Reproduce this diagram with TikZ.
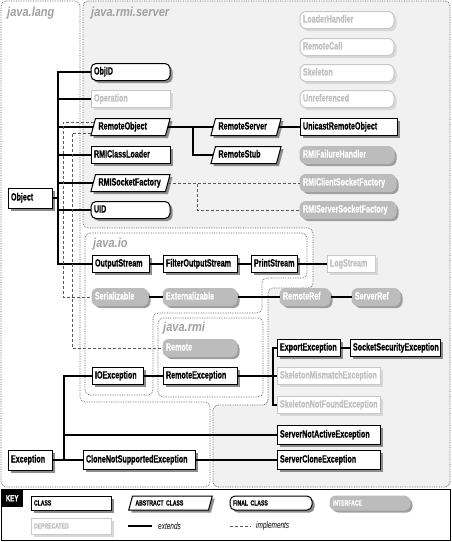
\documentclass[tikz,border=0pt]{standalone}
\usepackage{fontspec}
\setmainfont{Liberation Sans}[FakeStretch=0.68, BoldFeatures={FakeBold=0.5}]
\newfontfamily\pkgfont{Liberation Sans}[FakeStretch=0.85]
\usetikzlibrary{shapes.geometric,shadows,calc}
\definecolor{shd}{RGB}{140,140,140}
\definecolor{ifill}{RGB}{188,188,188}
\definecolor{ishd}{RGB}{158,158,158}
\definecolor{dline}{RGB}{200,200,200}
\definecolor{dtext}{RGB}{192,192,192}
\definecolor{dshd}{RGB}{216,216,216}
\definecolor{rmibg}{RGB}{241,241,241}
\definecolor{pkgtxt}{RGB}{160,160,160}
\definecolor{pkgline}{RGB}{90,90,90}
\tikzset{
 bx/.style={font=\fontsize{10.5}{12}\selectfont\bfseries, inner xsep=3pt, inner ysep=4pt, text height=7pt, text depth=2pt, align=left, line width=1pt},
 shadowof/.style={drop shadow={shadow xshift=2.5pt, shadow yshift=-2.5pt, fill=#1, opacity=1}},
 clsbox/.style={bx, /utils/exec={\pgfmathsetmacro\tw{#1-6}}, text width=\tw pt, rectangle, draw=black, fill=white, shadowof=shd},
 absbox/.style={bx, /utils/exec={\pgfmathsetmacro\tw{#1-15}}, text width=\tw pt, trapezium, trapezium left angle=75, trapezium right angle=105, draw=black, fill=white, shadowof=shd},
 finbox/.style={bx, /utils/exec={\pgfmathsetmacro\tw{#1-6}}, text width=\tw pt, rectangle, rounded corners=5pt, draw=black, fill=white, shadowof=shd},
 ifbox/.style={bx, /utils/exec={\pgfmathsetmacro\tw{#1-6}}, text width=\tw pt, rectangle, rounded corners=6pt, draw=ifill, fill=ifill, text=white, shadowof=ishd},
 dclsbox/.style={bx, /utils/exec={\pgfmathsetmacro\tw{#1-6}}, text width=\tw pt, rectangle, draw=dline, fill=white, text=dtext, shadowof=dshd},
 difbox/.style={bx, /utils/exec={\pgfmathsetmacro\tw{#1-6}}, text width=\tw pt, rectangle, rounded corners=6pt, draw=dline, fill=white, text=dtext, shadowof=dshd},
 tallbox/.style={inner ysep=5pt},
 bigbox/.style={inner ysep=5.5pt},
 keyb/.style={font=\fontsize{7.5}{9}\selectfont\bfseries, inner ysep=3.5pt, text height=6pt, text depth=1pt},
 pkgline/.style={densely dotted, line width=0.7pt, draw=pkgline, rounded corners=5pt},
 pkglbl/.style={font=\pkgfont\fontsize{13}{15}\selectfont\bfseries\itshape, text=pkgtxt, inner sep=0pt, anchor=base west},
 extline/.style={line width=1.1pt, draw=black},
 impline/.style={line width=0.9pt, draw=black!65, dash pattern=on 3pt off 2pt},
 legtxt/.style={font=\fontsize{9.5}{11}\selectfont\itshape, inner sep=0pt, anchor=west},
}
\begin{document}
\begin{tikzpicture}[x=1pt,y=-1pt]
\useasboundingbox (0,0) rectangle (452,542);
% package regions
\filldraw[pkgline, fill=rmibg] (83,1) -- (450,1) -- (450,487) -- (213,487) -- (213,405) -- (268,405) -- (268,288) -- (313,288) -- (313,228) -- (83,228) -- cycle;
\draw[pkgline] (1,1) -- (80,1) -- (80,402) -- (210,402) -- (210,487) -- (1,487) -- cycle;
\draw[pkgline] (85,233) -- (307,233) -- (307,278) -- (262,278) -- (262,313) -- (153,313) -- (153,395) -- (85,395) -- cycle;
\draw[pkgline] (158,318) -- (263,318) -- (263,397) -- (158,397) -- cycle;
\node[pkglbl] (lLang) at (7,16) {java.lang};
\node[pkglbl] (lServer) at (91,16) {java.rmi.server};
\node[pkglbl] (lIo) at (93,247) {java.io};
\node[pkglbl] (lRmi) at (163,331) {java.rmi};

% java.lang / java.rmi.server
\node[clsbox=44, bigbox] (Object) at (30,198) {Object};
\node[finbox=79] (ObjID) at (130.5,72) {ObjID};
\node[dclsbox=79] (Operation) at (130.5,99) {Operation};
\node[absbox=79] (RemoteObject) at (130.5,127) {RemoteObject};
\node[clsbox=79] (RMIClassLoader) at (130.5,155) {RMIClassLoader};
\node[absbox=79] (RMISocketFactory) at (130.5,183) {RMISocketFactory};
\node[finbox=79] (UID) at (130.5,210) {UID};
\node[absbox=70] (RemoteServer) at (246,127) {RemoteServer};
\node[absbox=70] (RemoteStub) at (246,155) {RemoteStub};
\node[clsbox=97] (UnicastRemoteObject) at (348.5,127) {UnicastRemoteObject};
\node[difbox=94] (LoaderHandler) at (347,20) {LoaderHandler};
\node[difbox=94] (RemoteCall) at (347,47) {RemoteCall};
\node[difbox=94] (Skeleton) at (347,73) {Skeleton};
\node[difbox=94] (Unreferenced) at (347,99) {Unreferenced};
\node[ifbox=94] (RMIFailureHandler) at (347,155) {RMIFailureHandler};
\node[ifbox=96] (RMIClientSocketFactory) at (348,183) {RMIClientSocketFactory};
\node[ifbox=96] (RMIServerSocketFactory) at (348,210) {RMIServerSocketFactory};

% java.io
\node[clsbox=57] (OutputStream) at (120.5,264) {OutputStream};
\node[clsbox=74] (FilterOutputStream) at (200,264) {FilterOutputStream};
\node[clsbox=46] (PrintStream) at (274,264) {PrintStream};
\node[dclsbox=48] (LogStream) at (351,264) {LogStream};
\node[ifbox=56] (Serializable) at (120,297) {Serializable};
\node[ifbox=74] (Externalizable) at (200,297) {Externalizable};
\node[ifbox=50] (RemoteRef) at (305,297) {RemoteRef};
\node[ifbox=48] (ServerRef) at (376,297) {ServerRef};
\node[ifbox=74] (Remote) at (200,348) {Remote};
\node[clsbox=51] (IOException) at (117.5,376) {IOException};
\node[clsbox=74] (RemoteException) at (200,376) {RemoteException};
\node[clsbox=63] (ExportException) at (308.5,348) {ExportException};
\node[clsbox=90] (SocketSecurityException) at (395,348) {SocketSecurityException};
\node[dclsbox=103] (SkeletonMismatchException) at (328.5,376) {SkeletonMismatchException};
\node[dclsbox=103] (SkeletonNotFoundException) at (328.5,405) {SkeletonNotFoundException};
\node[clsbox=103, tallbox] (ServerNotActiveException) at (328.5,435) {ServerNotActiveException};
\node[clsbox=103, tallbox] (ServerCloneException) at (328.5,460) {ServerCloneException};
\node[clsbox=44, bigbox] (Exception) at (30,460) {Exception};
\node[clsbox=112, tallbox] (CloneNotSupportedException) at (139,460) {CloneNotSupportedException};

% trunk x positions
\coordinate (tObj) at (58,0);
\coordinate (tExc) at (64,0);
\coordinate (tRO) at (193,0);
\coordinate (tRE) at (273,0);
\coordinate (tRSF) at (197,0);
\coordinate (tSer) at (63,0);
\coordinate (tRem) at (72,0);

% extends
\foreach \n in {ObjID,Operation,RemoteObject,RMIClassLoader,RMISocketFactory,UID,OutputStream}
  \draw[extline] (Object.east) -- (Object.east -| tObj) |- (\n.west);
\foreach \n in {IOException,ServerNotActiveException,CloneNotSupportedException}
  \draw[extline] (Exception.east) -- (Exception.east -| tExc) |- (\n.west);
\foreach \n in {RemoteServer,RemoteStub}
  \draw[extline] (RemoteObject.east) -- (RemoteObject.east -| tRO) |- (\n.west);
\foreach \n in {ExportException,SkeletonMismatchException,SkeletonNotFoundException}
  \draw[extline] (RemoteException.east) -- (RemoteException.east -| tRE) |- (\n.west);
\draw[extline] (RemoteServer.east) -- (UnicastRemoteObject.west);
\draw[extline] (OutputStream.east) -- (FilterOutputStream.west);
\draw[extline] (FilterOutputStream.east) -- (PrintStream.west);
\draw[extline] (PrintStream.east) -- (LogStream.west);
\draw[extline] (Serializable.east) -- (Externalizable.west);
\draw[extline] (Externalizable.east) -- (RemoteRef.west);
\draw[extline] (RemoteRef.east) -- (ServerRef.west);
\draw[extline] (IOException.east) -- (RemoteException.west);
\draw[extline] (ExportException.east) -- (SocketSecurityException.west);
\draw[extline] (CloneNotSupportedException.east) -- (ServerCloneException.west);

% implements
\coordinate (ro1) at ($(RemoteObject.top left corner)!0.22!(RemoteObject.bottom left corner)$);
\coordinate (ro2) at ($(RemoteObject.top left corner)!0.85!(RemoteObject.bottom left corner)$);
\draw[impline] (ro1) -- (ro1 -| tSer) |- (Serializable.west);
\draw[impline] (ro2) -- (ro2 -| tRem) |- (Remote.west);
\draw[impline] (RMISocketFactory.east) -- (RMIClientSocketFactory.west);
\draw[impline] (RMISocketFactory.east) -- (RMISocketFactory.east -| tRSF) |- (RMIServerSocketFactory.west);

% key
\draw[line width=0.8pt] (1,489) rectangle (450,540);
\node[fill=black, text=white, font=\fontsize{9}{10}\selectfont\bfseries, minimum width=22pt, minimum height=18pt, inner sep=0pt, anchor=north west] (keylbl) at (1,489) {KEY};
\node[clsbox=80, keyb] (kClass) at (71,503) {CLASS};
\node[absbox=85, keyb] (kAbs) at (170.5,503) {ABSTRACT CLASS};
\node[finbox=82, keyb] (kFin) at (271,503) {FINAL CLASS};
\node[ifbox=80, keyb] (kIf) at (370,503) {INTERFACE};
\node[dclsbox=80, keyb, inner ysep=4.5pt] (kDep) at (71,526) {DEPRECATED};
\coordinate (e1) at (128,526);
\coordinate (e2) at (152,526);
\draw[extline] (e1) -- (e2);
\node[legtxt] (lext) at (158,526) {extends};
\coordinate (i1) at (230,526);
\coordinate (i2) at (251,526);
\draw[impline] (i1) -- (i2);
\node[legtxt] (limp) at (256,526) {implements};
\end{tikzpicture}
\end{document}
